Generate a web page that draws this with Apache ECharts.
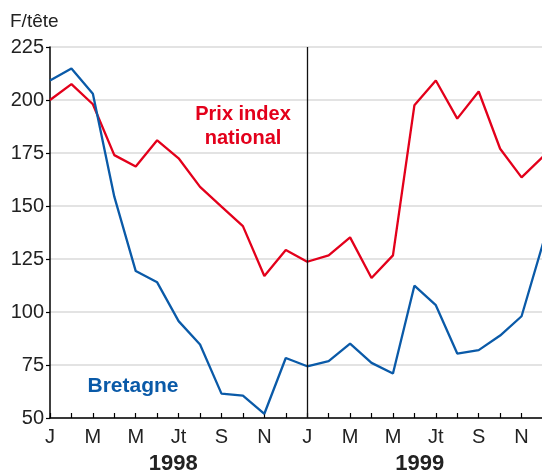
<!DOCTYPE html>
<html><head><meta charset="utf-8">
<script src="https://cdn.jsdelivr.net/npm/echarts@6/dist/echarts.min.js"></script>
<style>html,body{margin:0;padding:0;background:#fff}#c{width:542px;height:470px}</style>
</head><body><div id="c"></div>
<script>
const monthLabels = ['J','F','M','A','M','J','Jt','A','S','O','N','D'];
const years = ['1998','1999'];
const prixNational = [200,207.5,198,174,168.6,181,172.5,159,149.7,140.5,117,129.2,
                      123.7,126.7,135.2,116,126.7,197.5,209.2,191.2,204,177,163.5,173.3];
const bretagne = [209.2,214.9,202.9,154.4,119.3,114,95.7,84.7,61.5,60.6,52,78.3,
                  74.4,76.8,85.1,76,71,112.4,103.2,80.4,82,88.9,98,132.4];
const yTicks = {min:50, max:225, interval:25};

const categories = [];
years.forEach(y => monthLabels.forEach((m,i) => categories.push(y + '-' + (i+1))));
const labelOf = c => monthLabels[parseInt(c.split('-')[1],10)-1];

const RED = '#e3001b', BLUE = '#0a5aa8', TXT = '#222';
const FF = 'Liberation Sans, Arial, sans-serif';
const chart = echarts.init(document.getElementById('c'), null, {renderer:'canvas'});
chart.setOption({
  animation:false,
  textStyle:{fontFamily:FF},
  grid:{left:50, top:47, width:493, bottom:52, containLabel:false, outerBoundsMode:'none'},
  xAxis:[{
    type:'category', data:categories, boundaryGap:false,
    axisLine:{lineStyle:{color:'#000', width:1.5}},
    axisTick:{show:true, inside:true, length:5, interval:0, lineStyle:{color:'#000', width:1.2}},
    axisLabel:{interval:1, formatter:labelOf, color:TXT, fontSize:20, margin:9},
    splitLine:{show:false}
  },{
    type:'category', data:years, position:'bottom', offset:29, boundaryGap:true,
    axisLine:{show:false}, axisTick:{show:false},
    axisLabel:{color:TXT, fontSize:22, fontWeight:'bold', margin:6}
  }],
  yAxis:{
    type:'value', min:yTicks.min, max:yTicks.max, interval:yTicks.interval,
    axisLine:{show:true, lineStyle:{color:'#000', width:1.5}},
    axisTick:{show:true, length:4, lineStyle:{color:'#000', width:1.2}},
    axisLabel:{color:TXT, fontSize:20, margin:6},
    splitLine:{lineStyle:{color:'#e3e3e3', width:2}}
  },
  graphic:[
    {type:'text', x:10, y:22, style:{text:'F/tête', fill:TXT, verticalAlign:'middle', font:'19px ' + FF}},
    {type:'text', x:243, y:126, style:{text:'Prix index\nnational', fill:RED, align:'center', verticalAlign:'middle', lineHeight:24, font:'bold 20px ' + FF}},
    {type:'text', x:133, y:386, style:{text:'Bretagne', fill:BLUE, align:'center', verticalAlign:'middle', font:'bold 21px ' + FF}}
  ],
  series:[
    {type:'line', name:'Prix index national', data:prixNational, showSymbol:false, lineStyle:{color:RED, width:2.3}, itemStyle:{color:RED},
     markLine:{silent:true, symbol:'none', label:{show:false}, lineStyle:{color:'#111', width:1.3, type:'solid'}, data:[{xAxis:12}]}},
    {type:'line', name:'Bretagne', data:bretagne, showSymbol:false, lineStyle:{color:BLUE, width:2.3}, itemStyle:{color:BLUE}}
  ]
});
</script></body></html>
